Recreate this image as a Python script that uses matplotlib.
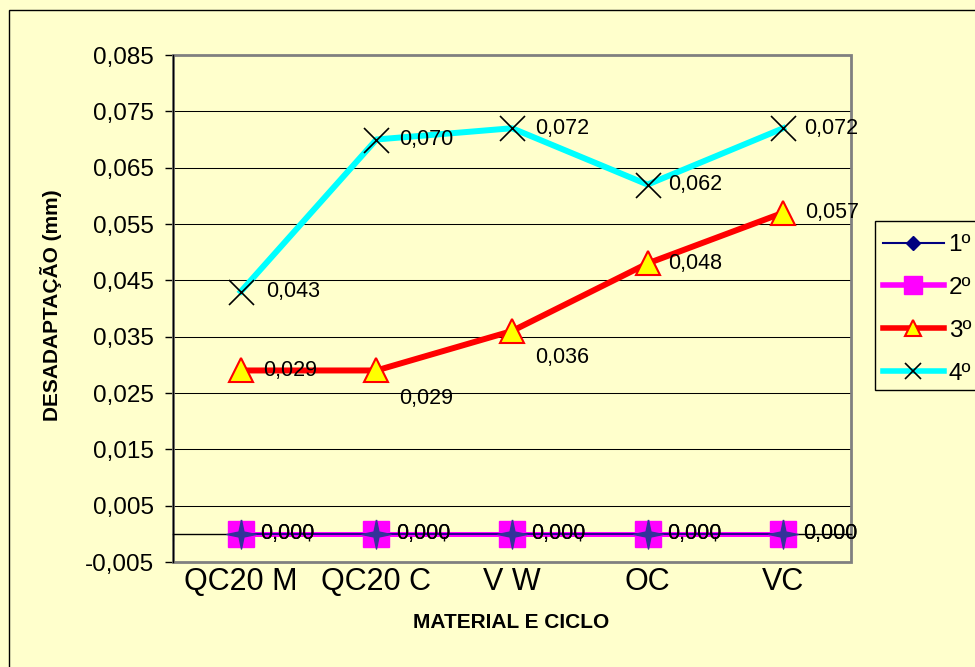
import matplotlib
matplotlib.use('Agg')
import matplotlib.pyplot as plt
from matplotlib.lines import Line2D
from matplotlib.patches import Rectangle
from matplotlib.ticker import FuncFormatter

# ---- data ----
categories = ['QC20 M', 'QC20 C', 'V W', 'OC', 'VC']
series_names = ['1º', '2º', '3º', '4º']
s1 = [0.000, 0.000, 0.000, 0.000, 0.000]
s2 = [0.000, 0.000, 0.000, 0.000, 0.000]
s3 = [0.029, 0.029, 0.036, 0.048, 0.057]
s4 = [0.043, 0.070, 0.072, 0.062, 0.072]
yticks = [-0.005, 0.005, 0.015, 0.025, 0.035, 0.045, 0.055, 0.065, 0.075, 0.085]
ylabel = 'DESADAPTAÇÃO (mm)'
xlabel = 'MATERIAL E CICLO'

# label offsets (points), styling only
off_s12 = [(14, 0)] * 5
off_s3 = [(16, 0), (16.5, -20), (16.5, -19), (15, 0), (15.5, 0)]
off_s4 = [(18, 0), (16.5, 0), (16.5, 0), (15, 0), (15, 0)]

# thin four-pointed star marker (style only)
k = 0.17
star4 = [(0, 1), (k, k), (1, 0), (k, -k), (0, -1), (-k, -k), (-1, 0), (-k, k), (0, 1)]

plt.rcParams['font.family'] = ['Liberation Sans', 'DejaVu Sans']
BG = '#FFFFCC'

fig = plt.figure(figsize=(9.75, 6.67), dpi=100, facecolor=BG)
ax = fig.add_axes([173 / 975, 1 - 562 / 667, 678 / 975, 507 / 667])
ax.set_facecolor(BG)

x = list(range(len(categories)))

ax.plot(x, s2, color='#FF00FF', lw=3.6, marker='s', ms=18.5, mfc='#FF00FF', mec='#FF00FF', zorder=3)
ax.plot(x, s1, color='#000080', lw=1.2, marker=star4, ms=21, mfc='#333399', mec='#333399', mew=1, zorder=4)
ax.plot(x, s3, color='#FF0000', lw=4.3, marker='^', ms=17, mfc='#FFFF00', mec='#FF0000', mew=1.5, zorder=3)
ax.plot(x, s4, color='#00FFFF', lw=4.3, marker='x', ms=18, mec='black', mew=1.2, zorder=3)

fmt = lambda v: f"{v:.3f}".replace('.', ',')

for vals, offs in [(s2, off_s12), (s1, off_s12), (s3, off_s3), (s4, off_s4)]:
    for xi, v, o in zip(x, vals, offs):
        ax.annotate(fmt(v), (xi, v), xytext=o, textcoords='offset points',
                    ha='left', va='center', fontsize=15.5, color='black', zorder=6)

ax.set_xlim(-0.5, len(categories) - 0.5)
ax.set_ylim(yticks[0], yticks[-1])
ax.set_yticks(yticks)
ax.yaxis.set_major_formatter(FuncFormatter(lambda v, p: fmt(v)))
ax.tick_params(axis='y', direction='out', length=6, width=1, pad=8, labelsize=17.5, color='black')

ax.set_xticks(x)
ax.set_xticklabels(categories)
ax.set_xticks([i - 0.5 for i in range(len(categories) + 1)], minor=True)
ax.tick_params(axis='x', which='major', length=0, pad=24, labelsize=22)
ax.tick_params(axis='x', which='minor', direction='out', length=5, width=1, color='black')

ax.grid(axis='y', color='black', lw=0.75)
ax.set_axisbelow(True)

for s in ['top', 'right']:
    ax.spines[s].set_visible(False)
ax.spines['left'].set_color('black')
ax.spines['left'].set_linewidth(1)
ax.spines['bottom'].set_position(('data', 0))
ax.spines['bottom'].set_color('black')
ax.spines['bottom'].set_linewidth(1)

ax.add_patch(Rectangle((0, 0), 1, 1, transform=ax.transAxes, fill=False,
                       ec='#808080', lw=2, zorder=1.5, clip_on=False))

fig.text(51 / 975, 1 - 305 / 667, ylabel, rotation=90, ha='center', va='center',
         fontsize=15, fontweight='bold')
fig.text(511 / 975, 1 - 622 / 667, xlabel, ha='center', va='center',
         fontsize=15, fontweight='bold')

# outer chart border
fig.add_artist(Rectangle((9 / 975, -0.5), 2, 0.5 + 1 - 10 / 667, transform=fig.transFigure,
                         fill=False, ec='black', lw=1))

# legend box (drawn separately so it can run off the right edge like the reference)
fig.add_artist(Rectangle((875 / 975, 1 - 390 / 667), 0.5, (390 - 221) / 667,
                         transform=fig.transFigure, fill=True, fc=BG, ec='black', lw=1))

handles = [
    Line2D([], [], color='#000080', lw=1.5, marker='D', ms=7, mfc='#000080', mec='#000080'),
    Line2D([], [], color='#FF00FF', lw=4, marker='s', ms=13, mfc='#FF00FF', mec='#FF00FF'),
    Line2D([], [], color='#FF0000', lw=4, marker='^', ms=11.5, mfc='#FFFF00', mec='#FF0000', mew=1.5),
    Line2D([], [], color='#00FFFF', lw=4, marker='x', ms=12, mec='black', mew=1.2),
]
leg = fig.legend(handles, series_names, loc='upper left',
                 bbox_to_anchor=(883 / 975, 1 - 234 / 667), bbox_transform=fig.transFigure,
                 frameon=False, fontsize=17.5, handlelength=2.5, handletextpad=0.2,
                 labelspacing=0.86, borderpad=0, borderaxespad=0)

fig.savefig('out.png', dpi=100, facecolor=BG)
